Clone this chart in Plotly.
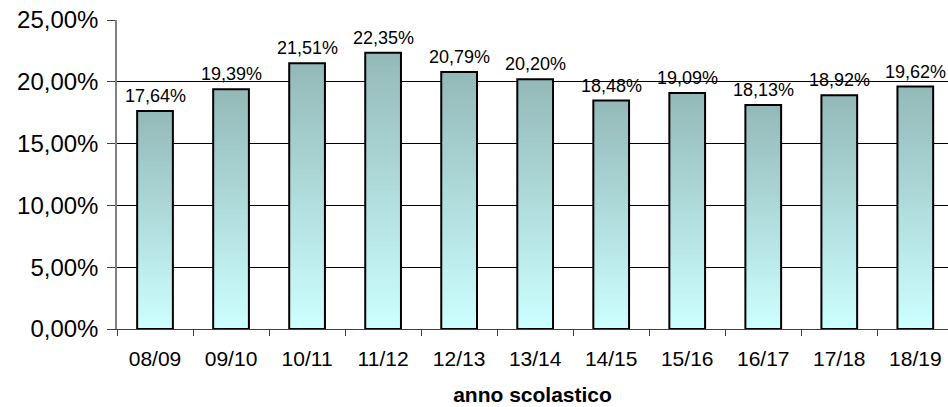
import plotly.graph_objects as go

categories = ["08/09", "09/10", "10/11", "11/12", "12/13", "13/14", "14/15", "15/16", "16/17", "17/18", "18/19"]
values = [17.64, 19.39, 21.51, 22.35, 20.79, 20.20, 18.48, 19.09, 18.13, 18.92, 19.62]
y_ticks = [0, 5, 10, 15, 20, 25]
x_title = "anno scolastico"

def it_pct(v):
    return f"{v:.2f}".replace(".", ",") + "%"

top_rgb = (148, 185, 185)
bottom_rgb = (204, 255, 255)
N = 60

fig = go.Figure()
# vertical gradient built by overlaying progressively shorter bars
for k in range(N):
    frac = (N - k) / N
    t = k / (N - 1)
    col = tuple(round(top_rgb[j] + (bottom_rgb[j] - top_rgb[j]) * t) for j in range(3))
    fig.add_trace(go.Bar(
        x=categories, y=[v * frac for v in values],
        marker=dict(color="rgb(%d,%d,%d)" % col, line=dict(width=0)),
        width=0.47, hoverinfo="skip", showlegend=False,
    ))
# outline
fig.add_trace(go.Bar(
    x=categories, y=values,
    marker=dict(color="rgba(0,0,0,0)", line=dict(color="black", width=2)),
    width=0.47, showlegend=False,
))

for c, v in zip(categories, values):
    fig.add_annotation(x=c, y=v, text=it_pct(v),
                       showarrow=False, yanchor="bottom", yshift=3,
                       font=dict(family="Liberation Sans, Arial", size=18, color="black"))

fig.update_layout(
    barmode="overlay",
    width=948, height=407,
    margin=dict(l=117, r=0, t=20, b=78),
    paper_bgcolor="white", plot_bgcolor="white",
    font=dict(family="Liberation Sans, Arial", color="black"),
    xaxis=dict(
        type="category", range=[-0.5, 10.43], automargin=False,
        showgrid=False, showline=True, linecolor="#404040", linewidth=1,
        ticks="outside", tickson="boundaries", ticklen=6, tickcolor="#404040",
        tickfont=dict(size=21), ticklabelstandoff=11,
        title=dict(text="<b>" + x_title + "</b>", font=dict(size=21), standoff=18),
    ),
    yaxis=dict(
        range=[0, 25], tickvals=y_ticks, ticktext=[it_pct(v) for v in y_ticks],
        automargin=False,
        showgrid=True, gridcolor="black", gridwidth=1,
        showline=True, linecolor="#808080", linewidth=1.5,
        ticks="outside", ticklen=8, tickcolor="#404040",
        zeroline=False, tickfont=dict(size=24), ticklabelstandoff=4,
    ),
)

fig.write_html("out.html", config={"displayModeBar": False},
               post_script="document.body.style.margin='0';document.body.style.overflow='hidden';")
